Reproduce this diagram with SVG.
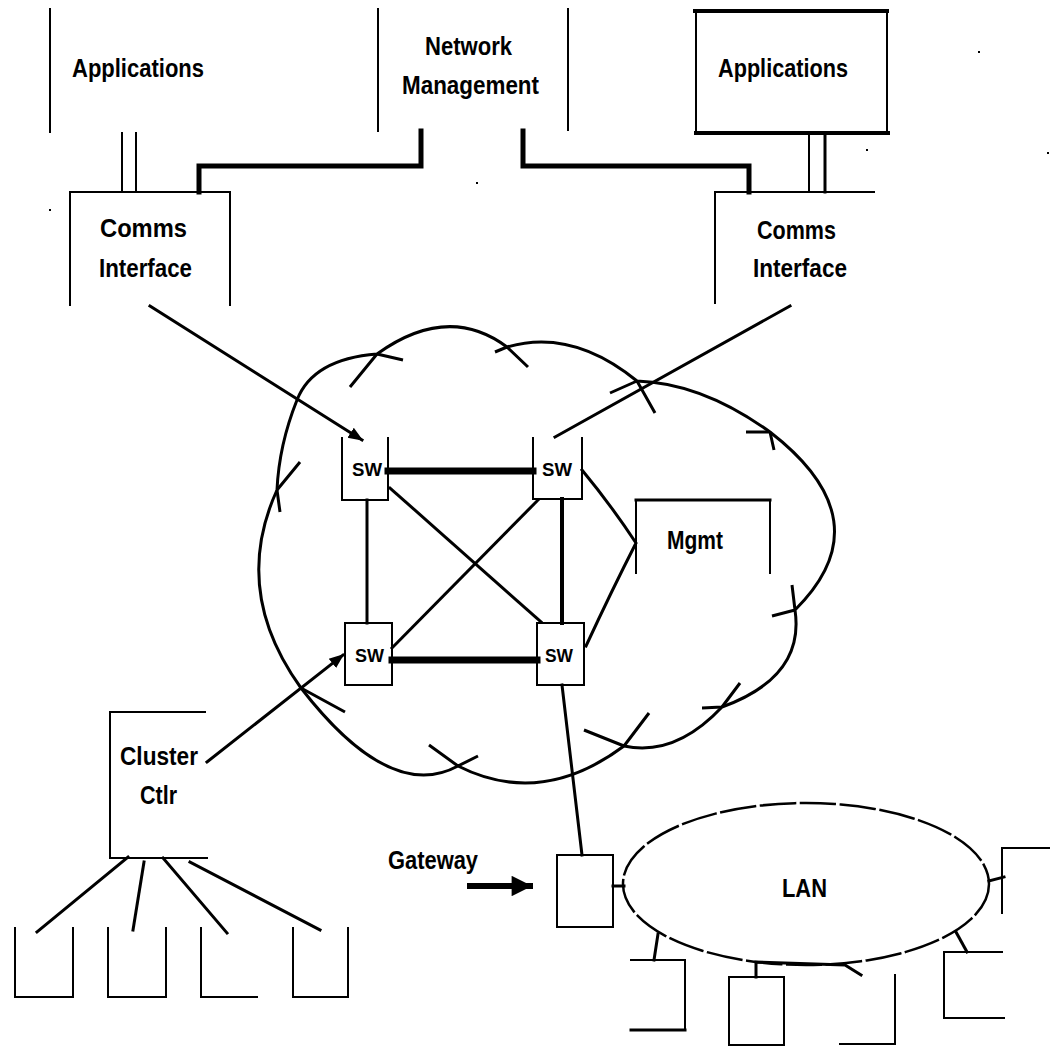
<svg xmlns="http://www.w3.org/2000/svg" width="1050" height="1046" viewBox="0 0 1050 1046">
  <style>
    .ln { stroke: #000; fill: none; stroke-linecap: square; }
    .thin { stroke-width: 2; }
    .med { stroke-width: 3; }
    .thick { stroke-width: 5; }
    .bar { stroke-width: 7; }
    .cloud { stroke: #000; stroke-width: 3; fill: none; stroke-linejoin: round; }
    .lbl { font-family: "Liberation Sans", Arial, sans-serif; font-weight: bold; font-size: 25px; fill: #000; }
    .sw { font-family: "Liberation Sans", Arial, sans-serif; font-weight: bold; font-size: 19px; fill: #000; }
    .dot { fill: #000; }
  </style>
  <defs>
    <marker id="tip" viewBox="0 0 10 10" refX="9" refY="5" markerWidth="5" markerHeight="5" orient="auto" markerUnits="strokeWidth">
      <path d="M0,1 L10,5 L0,9 Z" fill="#000"/>
    </marker>
    <marker id="bigtip" viewBox="0 0 10 10" refX="9" refY="5" markerWidth="5" markerHeight="3.4" orient="auto" markerUnits="strokeWidth">
      <path d="M0,0 L10,5 L0,10 Z" fill="#000"/>
    </marker>
  </defs>
  <rect width="1050" height="1046" fill="#fff"/>

  <!-- switching network cloud -->
  <g id="cloud">
    <path class="cloud" d="M277,490 Q279,445 297,400 Q313,359 377,354 Q448,303 507,347 Q572,328 637,381 Q702,383 770,432 Q885,521 795,610 Q805,677 722,707 Q675,757 624,746 Q541,808 458,766 Q390,803 301,688 Q231,591 277,490 Z"/>
    <path class="cloud" stroke-width="2.5" d="M377,354 L403,360 M377,354 L350,387 M507,347 L495,352 M507,347 L528,367 M637,381 L610,393 M637,381 L655,413 M770,432 L746,432 M770,432 L774,450 M795,610 L772,616 M795,610 L792,585 M722,707 L702,708 M722,707 L740,683 M624,746 L584,730 M624,746 L649,713 M458,766 L429,745 M458,766 L478,756 M301,688 L345,712 M277,490 L300,462 M277,490 L280,512"/>
  </g>

  <g id="apps-left">
    <line class="ln thin" x1="50" y1="9" x2="50" y2="132"/>
    <text class="lbl" x="72" y="77" textLength="132" lengthAdjust="spacingAndGlyphs">Applications</text>
  </g>

  <g id="comms-left">
    <path class="ln thin" d="M70,305 V192 H230 V305"/>
    <text class="lbl" x="100" y="237" textLength="87" lengthAdjust="spacingAndGlyphs">Comms</text>
    <text class="lbl" x="99" y="277" textLength="93" lengthAdjust="spacingAndGlyphs">Interface</text>
  </g>

  <g id="net-mgmt">
    <line class="ln thin" x1="378" y1="9" x2="378" y2="131"/>
    <line class="ln thin" x1="568" y1="9" x2="568" y2="130"/>
    <text class="lbl" x="425" y="55" textLength="87" lengthAdjust="spacingAndGlyphs">Network</text>
    <text class="lbl" x="402" y="94" textLength="137" lengthAdjust="spacingAndGlyphs">Management</text>
  </g>

  <g id="apps-right">
    <line class="ln" stroke-width="4" x1="695" y1="11" x2="887" y2="11"/>
    <line class="ln" stroke-width="4" x1="696" y1="133" x2="888" y2="133"/>
    <line class="ln thin" x1="696" y1="11" x2="696" y2="133"/>
    <line class="ln thin" x1="887" y1="11" x2="887" y2="133"/>
    <text class="lbl" x="718" y="77" textLength="130" lengthAdjust="spacingAndGlyphs">Applications</text>
  </g>

  <g id="comms-right">
    <path class="ln thin" d="M715,303 V192 H874"/>
    <text class="lbl" x="757" y="239" textLength="79" lengthAdjust="spacingAndGlyphs">Comms</text>
    <text class="lbl" x="753" y="277" textLength="94" lengthAdjust="spacingAndGlyphs">Interface</text>
  </g>

  <g id="sw-tl">
    <path class="ln thin" d="M342,438 V500 H388 V438"/>
    <text class="sw" x="352" y="476" textLength="30" lengthAdjust="spacingAndGlyphs">SW</text>
  </g>
  <g id="sw-tr">
    <path class="ln thin" d="M533,438 V499 H582 V438"/>
    <text class="sw" x="542" y="476" textLength="30" lengthAdjust="spacingAndGlyphs">SW</text>
  </g>
  <g id="sw-bl">
    <rect class="ln thin" x="345" y="623" width="47" height="62"/>
    <text class="sw" x="355" y="662" textLength="29" lengthAdjust="spacingAndGlyphs">SW</text>
  </g>
  <g id="sw-br">
    <rect class="ln thin" x="537" y="623" width="47" height="62"/>
    <text class="sw" x="545" y="662" textLength="28" lengthAdjust="spacingAndGlyphs">SW</text>
  </g>

  <g id="mgmt">
    <path class="ln thin" d="M636,573 V500 H770 V573"/>
    <line class="ln" stroke-width="3" x1="636" y1="500" x2="770" y2="500"/>
    <text class="lbl" x="667" y="549" textLength="56" lengthAdjust="spacingAndGlyphs">Mgmt</text>
  </g>

  <g id="cluster-ctlr">
    <path class="ln thin" d="M205,712 H110 V858 H207"/>
    <text class="lbl" x="120" y="765" textLength="78" lengthAdjust="spacingAndGlyphs">Cluster</text>
    <text class="lbl" x="140" y="804" textLength="37" lengthAdjust="spacingAndGlyphs">Ctlr</text>
  </g>

  <g id="terminals">
    <path class="ln thin" d="M15,928 V997 H73 V928"/>
    <path class="ln thin" d="M108,928 V997 H166 V928"/>
    <path class="ln thin" d="M201,928 V997 H257"/>
    <path class="ln thin" d="M293,928 V997 H348 V928"/>
  </g>

  <g id="gateway">
    <rect class="ln thin" x="557" y="855" width="56" height="72"/>
    <text class="lbl" font-size="22" x="388" y="869" textLength="90" lengthAdjust="spacingAndGlyphs">Gateway</text>
  </g>

  <g id="lan">
    <ellipse class="ln" stroke-width="2.5" stroke-dasharray="34 6" cx="806" cy="884" rx="183" ry="81"/>
    <text class="lbl" font-size="24" x="782" y="897" textLength="45" lengthAdjust="spacingAndGlyphs">LAN</text>
  </g>

  <g id="lan-stations">
    <path class="ln thin" d="M631,960 H685 V1030"/>
    <line class="ln med" x1="631" y1="1030" x2="685" y2="1030"/>
    <rect class="ln thin" x="729" y="977" width="55" height="68"/>
    <path class="ln thin" d="M895,975 V1044 H840"/>
    <path class="ln thin" d="M1002,952 H944 V1018 H1004"/>
    <path class="ln thin" d="M1050,848 H1002 V913"/>
  </g>

  <!-- links between the boxes -->
  <g id="connectors">
    <!-- management links -->
    <path class="ln thick" d="M199,192 V166 H421 V131"/>
    <path class="ln thick" d="M523,131 V166 H749 V192"/>
    <!-- application to comms interface -->
    <line class="ln thin" x1="122" y1="133" x2="122" y2="192"/>
    <line class="ln thin" x1="136" y1="133" x2="136" y2="192"/>
    <line class="ln thin" x1="809" y1="136" x2="809" y2="192"/>
    <line class="ln" stroke-width="3" x1="825" y1="136" x2="825" y2="192"/>
    <!-- access links into the switches -->
    <line class="ln med" x1="150" y1="306" x2="362" y2="440" marker-end="url(#tip)"/>
    <line class="ln med" x1="790" y1="306" x2="555" y2="437"/>
    <line class="ln med" x1="207" y1="762" x2="343" y2="655" marker-end="url(#tip)"/>
    <!-- switch mesh -->
    <line class="ln bar" x1="388" y1="471" x2="533" y2="471"/>
    <line class="ln bar" x1="392" y1="660" x2="537" y2="660"/>
    <line class="ln med" x1="367" y1="500" x2="367" y2="623"/>
    <line class="ln" stroke-width="4" x1="562" y1="499" x2="562" y2="623"/>
    <line class="ln med" x1="390" y1="488" x2="541" y2="622"/>
    <line class="ln med" x1="538" y1="500" x2="392" y2="648"/>
    <path class="ln med" d="M582,470 Q611,505 636,543 Q612,590 586,646"/>
    <!-- switch to gateway -->
    <line class="ln med" x1="562" y1="685" x2="582" y2="855"/>
    <line class="ln" stroke-width="6" x1="470" y1="886" x2="530" y2="886" marker-end="url(#bigtip)"/>
    <!-- gateway and stations on the LAN -->
    <line class="ln med" x1="613" y1="886" x2="624" y2="886"/>
    <line class="ln med" x1="658" y1="934" x2="654" y2="960"/>
    <path class="ln med" d="M756,977 V962 L845,965 L861,975"/>
    <line class="ln med" x1="956" y1="932" x2="967" y2="952"/>
    <line class="ln med" x1="989" y1="881" x2="1004" y2="877"/>
    <!-- cluster controller to terminals -->
    <line class="ln med" x1="128" y1="857" x2="37" y2="932"/>
    <line class="ln med" x1="144" y1="862" x2="133" y2="930"/>
    <line class="ln med" x1="163" y1="858" x2="227" y2="933"/>
    <line class="ln med" x1="190" y1="862" x2="320" y2="930"/>
  </g>

  <g id="specks">
    <rect class="dot" x="978" y="51" width="2" height="2"/>
    <rect class="dot" x="866" y="149" width="2" height="2"/>
    <rect class="dot" x="1047" y="152" width="2" height="2"/>
    <rect class="dot" x="476" y="182" width="2" height="2"/>
    <rect class="dot" x="49" y="209" width="2" height="2"/>
  </g>
</svg>
